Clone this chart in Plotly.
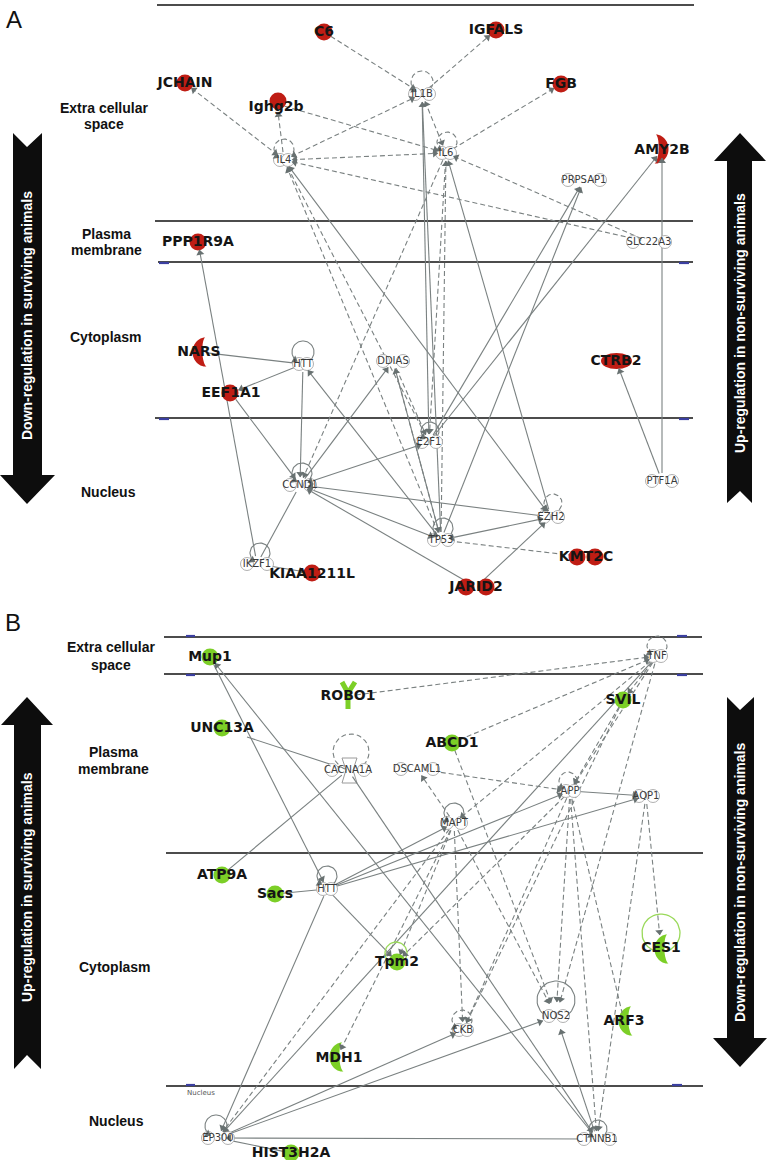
import math
import plotly.graph_objects as go

# ======================= DATA =======================
panel_letters = ["A", "B"]
compartments = [["Extra cellular", "space"], ["Plasma", "membrane"], ["Cytoplasm"], ["Nucleus"]]
arrow_texts_A = ["Down-regulation in surviving animals", "Up-regulation in non-surviving animals"]
arrow_texts_B = ["Up-regulation in surviving animals", "Down-regulation in non-surviving animals"]

# Panel A molecules
regulated_A = ["C6", "IGFALS", "JCHAIN", "Ighg2b", "FGB", "AMY2B", "PPP1R9A", "NARS",
               "EEF1A1", "CTRB2", "KIAA1211L", "KMT2C", "JARID2"]
connectors_A = ["IL1B", "IL6", "IL4", "PRPSAP1", "SLC22A3", "HTT", "DDIAS", "E2F1",
                "CCND1", "PTF1A", "EZH2", "TP53", "IKZF1"]
loops_A = [("IL1B", "dash"), ("IL6", "dash"), ("IL4", "dash"), ("HTT", "solid"), ("E2F1", "solid"),
           ("CCND1", "solid"), ("EZH2", "dash"), ("TP53", "solid"), ("IKZF1", "solid")]
# (source, target, line kind, arrowheads)
edges_A = [
    ("C6", "IL1B", "dash", ">"), ("IL1B", "IGFALS", "dash", ">"), ("IL4", "JCHAIN", "dash", "<>"),
    ("IL4", "Ighg2b", "dash", ">"), ("IL4", "IL1B", "dash", "<>"), ("Ighg2b", "IL6", "dash", ">"),
    ("IL4", "IL6", "dash", "<>"), ("IL1B", "IL6", "dash", "<>"), ("IL6", "FGB", "dash", ">"),
    ("SLC22A3", "IL6", "dash", ">"), ("SLC22A3", "IL4", "dash", ">"),
    ("IKZF1", "PPP1R9A", "solid", ">"), ("HTT", "NARS", "solid", ""), ("HTT", "EEF1A1", "solid", ">"),
    ("HTT", "CCND1", "solid", ">"), ("EEF1A1", "CCND1", "solid", ">"), ("CCND1", "IKZF1", "solid", ""),
    ("IKZF1", "KIAA1211L", "solid", ">"), ("CCND1", "DDIAS", "solid", ">"), ("TP53", "DDIAS", "solid", ">"),
    ("DDIAS", "E2F1", "dash", ">"), ("DDIAS", "TP53", "dash", ">"), ("TP53", "HTT", "solid", ">"),
    ("CCND1", "E2F1", "solid", "<>"), ("CCND1", "TP53", "solid", "<>"), ("JARID2", "CCND1", "solid", ">"),
    ("EZH2", "CCND1", "solid", ">"), ("EZH2", "TP53", "solid", "<>"), ("TP53", "KMT2C", "dash", ""),
    ("JARID2", "EZH2", "solid", ">"), ("PTF1A", "CTRB2", "solid", ">"), ("PTF1A", "AMY2B", "solid", ">"),
    ("E2F1", "PRPSAP1", "solid", ">"), ("TP53", "PRPSAP1", "solid", ">"), ("E2F1", "AMY2B", "solid", ">"),
    ("IL6", "CCND1", "dash", ">"), ("TP53", "IL4", "dash", ">"), ("E2F1", "IL4", "dash", ">"),
    ("EZH2", "IL4", "solid", "<>"), ("EZH2", "IL6", "solid", ">"), ("TP53", "IL6", "dash", ">"),
    ("IL6", "E2F1", "dash", ">"), ("TP53", "IL1B", "solid", ">"), ("IL1B", "E2F1", "solid", ">"),
]

# Panel B molecules
regulated_B = ["Mup1", "ROBO1", "SVIL", "UNC13A", "ABCD1", "ATP9A", "Sacs", "Tpm2", "CES1",
               "ARF3", "MDH1", "HIST3H2A"]
connectors_B = ["TNF", "CACNA1A", "DSCAML1", "APP", "AQP1", "MAPT", "HTT", "CKB", "NOS2",
                "EP300", "CTNNB1"]
loops_B = [("TNF", "dash"), ("APP", "dash"), ("MAPT", "solid"), ("HTT", "solid"), ("CKB", "dash"),
           ("EP300", "solid"), ("CTNNB1", "solid")]
edges_B = [
    ("ROBO1", "TNF", "dash", ">"), ("ABCD1", "TNF", "dash", ">"), ("TNF", "SVIL", "dash", ">"),
    ("TNF", "MAPT", "dash", ">"), ("TNF", "APP", "dash", ">"), ("TNF", "EP300", "solid", ">"),
    ("TNF", "NOS2", "dash", ">"), ("SVIL", "APP", "dash", ">"), ("SVIL", "CKB", "dash", ">"),
    ("MAPT", "DSCAML1", "dash", ">"), ("DSCAML1", "APP", "dash", ">"), ("APP", "AQP1", "solid", ">"),
    ("HTT", "MAPT", "solid", ">"), ("HTT", "APP", "solid", ">"), ("HTT", "AQP1", "solid", ">"),
    ("HTT", "EP300", "solid", ">"), ("MAPT", "EP300", "dash", ">"), ("EP300", "CKB", "solid", ">"),
    ("EP300", "NOS2", "solid", ">"), ("CTNNB1", "EP300", "solid", ">"), ("EP300", "HIST3H2A", "solid", ""),
    ("CACNA1A", "ATP9A", "solid", ""), ("CACNA1A", "CTNNB1", "solid", ">"), ("UNC13A", "CACNA1A", "solid", ""),
    ("CTNNB1", "Mup1", "solid", ">"), ("Mup1", "HTT", "solid", ">"), ("Sacs", "HTT", "solid", ""),
    ("HTT", "Tpm2", "solid", ">"), ("APP", "Tpm2", "dash", ">"), ("MAPT", "Tpm2", "dash", ">"),
    ("MAPT", "MDH1", "dash", ">"), ("AQP1", "CES1", "dash", ">"), ("AQP1", "CTNNB1", "dash", ">"),
    ("MAPT", "CKB", "dash", ">"), ("APP", "CKB", "dash", ">"), ("ABCD1", "NOS2", "dash", ">"),
    ("APP", "NOS2", "dash", ">"), ("APP", "CTNNB1", "dash", ">"), ("APP", "ARF3", "dash", ""),
    ("CTNNB1", "NOS2", "solid", ">"), ("MAPT", "NOS2", "dash", ">"),
]

# ======================= LAYOUT (positions / styles) =======================
W, H = 768, 1160
POS_A = {
    "C6": (324, 32), "IGFALS": (496, 30), "JCHAIN": (185, 83), "Ighg2b": (277, 104), "FGB": (561, 84),
    "IL1B": (422, 94), "IL6": (446, 153), "IL4": (284, 160), "AMY2B": (662, 150), "PRPSAP1": (584, 180),
    "SLC22A3": (649, 242), "PPP1R9A": (198, 242), "NARS": (199, 352), "HTT": (303, 364), "DDIAS": (393, 361),
    "EEF1A1": (231, 393), "CTRB2": (616, 361), "E2F1": (429, 442), "CCND1": (300, 485), "PTF1A": (662, 481),
    "EZH2": (551, 517), "TP53": (441, 540), "IKZF1": (257, 564), "KIAA1211L": (312, 573),
    "KMT2C": (586, 557), "JARID2": (476, 587),
}
POS_B = {
    "Mup1": (210, 657), "TNF": (657, 656), "ROBO1": (348, 696), "SVIL": (623, 700), "UNC13A": (222, 728),
    "ABCD1": (452, 743), "CACNA1A": (348, 770), "DSCAML1": (417, 769), "APP": (570, 791), "AQP1": (646, 796),
    "MAPT": (454, 823), "ATP9A": (222, 875), "Sacs": (275, 894), "HTT": (327, 889), "Tpm2": (397, 962),
    "CES1": (661, 948), "CKB": (463, 1030), "NOS2": (556, 1016), "ARF3": (624, 1021), "MDH1": (337, 1057),
    "EP300": (218, 1138), "HIST3H2A": (291, 1153), "CTNNB1": (597, 1139),
}
LABEL_SHIFT = {"Ighg2b": (-1, 3), "KIAA1211L": (0, 1), "MDH1": (2, 1)}
SYMBOL_A = {"AMY2B": ("enzyme", 1), "NARS": ("enzyme", -1), "CTRB2": ("oval", 0),
            "KMT2C": ("twin", 9), "JARID2": ("twin", 10)}
SYMBOL_B = {"ROBO1": ("Y", 0), "CES1": ("enzyme", -1), "ARF3": ("enzyme", -1), "MDH1": ("enzyme", -1)}
SYM_OFFSET = {"Ighg2b": (1, -3), "KIAA1211L": (0, 0), "EEF1A1": (-1, 0), "AMY2B": (0, -1),
              "MDH1": (-1, 0), "ARF3": (1, 0), "CES1": (0, 1), "NARS": (0, 0)}
ANCHOR_B = {"UNC13A": (247, 737)}
RADIUS = {"NOS2": 14, "CES1": 13}
LOOP_GEOM = {  # offset x, offset y, radius
    "A:IL1B": (0, -12, 11), "A:IL6": (1, -11, 10), "A:IL4": (0, -11, 10), "A:HTT": (0, -12, 11),
    "A:E2F1": (1, -11, 9), "A:CCND1": (2, -12, 10), "A:EZH2": (2, -14, 9), "A:TP53": (2, -12, 10),
    "A:IKZF1": (3, -11, 10), "B:TNF": (0, -10, 10), "B:APP": (-2, -10, 9), "B:MAPT": (0, -10, 10),
    "B:HTT": (0, -13, 10), "B:CKB": (-1, -10, 10), "B:EP300": (-2, -12, 11), "B:CTNNB1": (1, -10, 9),
}
RED = "#bf1d14"
GREEN = "#7ccf27"
EDGE = "#7a8181"
HEAD = "#687171"

fig = go.Figure()
shapes, annotations = [], []
seg = {"solid": ([], []), "dash": ([], [])}
heads = ([], [], [])


def add_head(tx, ty, ux, uy):
    heads[0].append(tx - ux * 3.2)
    heads[1].append(ty - uy * 3.2)
    heads[2].append(math.degrees(math.atan2(ux, -uy)))


def draw_edges(edges, pos, anchor):
    for s, d, kind, hd in edges:
        p = anchor.get(s, pos[s])
        q = anchor.get(d, pos[d])
        r1 = 0 if s in anchor else RADIUS.get(s, 8)
        r2 = 0 if d in anchor else RADIUS.get(d, 8)
        dx, dy = q[0] - p[0], q[1] - p[1]
        L = math.hypot(dx, dy)
        ux, uy = dx / L, dy / L
        sx, sy = p[0] + ux * r1, p[1] + uy * r1
        ex, ey = q[0] - ux * r2, q[1] - uy * r2
        xs, ys = seg[kind]
        xs += [sx, ex, None]
        ys += [sy, ey, None]
        if ">" in hd:
            add_head(ex, ey, ux, uy)
        if "<" in hd:
            add_head(sx, sy, -ux, -uy)


def arc(cx, cy, r, t0, t1, n=48):
    ts = [t0 + (t1 - t0) * i / (n - 1) for i in range(n)]
    return ([cx + r * math.cos(math.radians(t)) for t in ts],
            [cy + r * math.sin(math.radians(t)) for t in ts])


def draw_loop(cx, cy, r, kind, t0=120, t1=420, head=True, target=None):
    ax, ay = arc(cx, cy, r, t0, t1)
    xs, ys = target if target else seg[kind]
    xs += ax + [None]
    ys += ay + [None]
    if head:
        t = math.radians(t0)
        add_head(ax[0], ay[0], math.sin(t), -math.cos(t))


def crescent(cx, cy, b, h=29, w=13, color=RED):
    """Half-moon enzyme-like symbol; b = -1 bulges left, +1 bulges right."""
    fx = cx - b * w / 2
    n = 24
    pts = []
    for k in range(n + 1):
        s = math.pi * k / n
        pts.append((fx + b * w * math.sin(s), cy - h / 2 * math.cos(s)))
    for k in range(n, -1, -1):
        s = math.pi * k / n
        pts.append((fx + b * w * 0.3 * math.sin(s) - b * 1.5 * (k / n), cy - h / 2 * math.cos(s)))
    path = "M" + " L".join(f"{x:.1f},{y:.1f}" for x, y in pts) + " Z"
    shapes.append(dict(type="path", path=path, xref="x", yref="y", fillcolor=color,
                       line=dict(width=0), layer="below"))


reg_x, reg_y, reg_s, reg_c = [], [], [], []
plain_x, plain_y = [], []
lab = {"reg": ([], [], []), "plain": ([], [], [])}


def draw_nodes(tag, regulated, connectors, pos, symbols, color):
    for n in regulated:
        x, y = pos[n]
        ox, oy = SYM_OFFSET.get(n, (0, 0))
        kind, par = symbols.get(n, ("circle", 0))
        if kind == "circle":
            reg_x.append(x + ox); reg_y.append(y + oy); reg_s.append(17); reg_c.append(color)
        elif kind == "twin":
            for dx in (-par, par):
                reg_x.append(x + dx); reg_y.append(y); reg_s.append(17); reg_c.append(color)
        elif kind == "enzyme":
            crescent(x + ox, y + oy, par, color=color)
        elif kind == "oval":
            shapes.append(dict(type="circle", xref="x", yref="y", x0=x - 15, x1=x + 16, y0=y - 8, y1=y + 8,
                               fillcolor=color, line=dict(width=0), layer="below"))
        elif kind == "Y":
            shapes.append(dict(type="path", xref="x", yref="y", layer="below",
                               path=f"M{x-6},{y-14} L{x},{y-3} L{x+7},{y-14} M{x},{y-3} L{x},{y+13}",
                               line=dict(color=color, width=5)))
        lx, ly = LABEL_SHIFT.get(n, (0, 0))
        lab["reg"][0].append(x + lx); lab["reg"][1].append(y + ly); lab["reg"][2].append(f"<b>{n}</b>")
    for n in connectors:
        x, y = pos[n]
        w = len(n) * 6.0
        if w > 16:
            for dx in (-(w / 2 - 5), (w / 2 - 5)):
                plain_x.append(x + dx); plain_y.append(y)
        else:
            plain_x.append(x); plain_y.append(y)
        lab["plain"][0].append(x); lab["plain"][1].append(y); lab["plain"][2].append(n)


# ---------- compartment lines ----------
def hline(y, x0, x1, width=1.6):
    shapes.append(dict(type="line", xref="x", yref="y", x0=x0, x1=x1, y0=y, y1=y,
                       line=dict(color="#111111", width=width), layer="below"))


def tick(y, x0, x1):
    shapes.append(dict(type="line", xref="x", yref="y", x0=x0, x1=x1, y0=y, y1=y,
                       line=dict(color="#3b3fa0", width=2.2), layer="below"))


for y, x0, x1 in [(5, 157, 694), (221, 155, 693), (262, 158, 693), (418, 155, 693),
                  (637, 164, 702), (674, 164, 703), (853, 166, 703), (1086, 166, 703)]:
    hline(y, x0, x1)
for y, x0, x1 in [(263, 159, 169), (263, 679, 689), (419, 159, 169), (419, 679, 689),
                  (636, 186, 195), (636, 677, 687), (675, 186, 195), (675, 677, 687),
                  (1085, 186, 195), (1085, 672, 682)]:
    tick(y, x0, x1)

# ---------- big black arrows ----------
for path in ["M13,133 L27,147 L42,133 L42,475 L55,475 L27,504 L0,475 L13,475 Z",
             "M740,133 L766,161 L752,161 L752,503 L740,491 L727,503 L727,161 L714,161 Z",
             "M27,697 L53,725 L41,725 L41,1069 L27,1055 L14,1069 L14,725 L1,725 Z",
             "M727,697 L740,710 L754,697 L754,1038 L767,1038 L740,1067 L713,1038 L727,1038 Z"]:
    shapes.append(dict(type="path", path=path, xref="x", yref="y", fillcolor="#0d0d0d",
                       line=dict(width=0), layer="below"))
for txt, x, y in [(arrow_texts_A[0], 27, 316), (arrow_texts_A[1], 740, 323),
                  (arrow_texts_B[0], 27, 887), (arrow_texts_B[1], 740, 883)]:
    annotations.append(dict(x=x, y=y, xref="x", yref="y", text=f"<b>{txt}</b>", showarrow=False,
                            textangle=-90, font=dict(family="Liberation Sans, Arial", size=14, color="white")))

# ---------- compartment labels ----------
comp_pos_A = [[(104, 108), (104, 124)], [(106, 234), (106, 250)], [(106, 337)], [(108, 492)]]
comp_pos_B = [[(111, 647), (111, 665)], [(113, 752), (113, 769)], [(115, 967)], [(116, 1121)]]
for comp_pos in (comp_pos_A, comp_pos_B):
    for lines, ps in zip(compartments, comp_pos):
        for t, (x, y) in zip(lines, ps):
            annotations.append(dict(x=x, y=y, xref="x", yref="y", text=f"<b>{t}</b>", showarrow=False,
                                    font=dict(family="Liberation Sans, Arial", size=14, color="#111111")))
for t, (x, y) in zip(panel_letters, [(14, 19), (13, 622)]):
    annotations.append(dict(x=x, y=y, xref="x", yref="y", text=t, showarrow=False,
                            font=dict(family="Liberation Sans, Arial", size=24, color="#111111")))
annotations.append(dict(x=201, y=1093, xref="x", yref="y", text="Nucleus", showarrow=False,
                        font=dict(family="DejaVu Sans", size=7, color="#555555")))

# ---------- network ----------
draw_edges(edges_A, POS_A, {})
draw_edges(edges_B, POS_B, ANCHOR_B)
for n, kind in loops_A:
    x, y = POS_A[n]
    ox, oy, r = LOOP_GEOM["A:" + n]
    draw_loop(x + ox, y + oy, r, kind)
for n, kind in loops_B:
    x, y = POS_B[n]
    ox, oy, r = LOOP_GEOM["B:" + n]
    draw_loop(x + ox, y + oy, r, kind)
# large loops (CACNA1A, NOS2) and green rings (Tpm2, CES1)
draw_loop(351, 752, 18, "dash", t0=110, t1=430, head=False)
draw_loop(556, 1000, 19, "solid", t0=120, t1=420, head=False)
green_ring = ([], [])
draw_loop(661, 933, 19, "solid", t0=115, t1=425, head=False, target=green_ring)
draw_loop(396, 953, 11, "solid", t0=100, t1=440, head=False, target=green_ring)

draw_nodes("A", regulated_A, connectors_A, POS_A, SYMBOL_A, RED)
draw_nodes("B", regulated_B, connectors_B, POS_B, SYMBOL_B, GREEN)

# CACNA1A channel symbol
shapes.append(dict(type="path", xref="x", yref="y", layer="below",
                   path="M342,758 L357,758 L353,770 L357,783 L342,783 L346,770 Z",
                   fillcolor="white", line=dict(color="#9a9a9a", width=1)))

fig.add_trace(go.Scatter(x=seg["solid"][0], y=seg["solid"][1], mode="lines",
                         line=dict(color=EDGE, width=1.1), hoverinfo="skip"))
fig.add_trace(go.Scatter(x=seg["dash"][0], y=seg["dash"][1], mode="lines",
                         line=dict(color=EDGE, width=1.1, dash="5px,3px"), hoverinfo="skip"))
fig.add_trace(go.Scatter(x=green_ring[0], y=green_ring[1], mode="lines",
                         line=dict(color="#9ad95a", width=1.3), hoverinfo="skip"))
fig.add_trace(go.Scatter(x=plain_x, y=plain_y, mode="markers", hoverinfo="skip",
                         marker=dict(symbol="circle", size=13, color="white", opacity=1,
                                     line=dict(color="#a8a8a8", width=0.9))))
fig.add_trace(go.Scatter(x=reg_x, y=reg_y, mode="markers", hoverinfo="skip",
                         marker=dict(symbol="circle", size=reg_s, color=reg_c, opacity=1,
                                     line=dict(width=0))))
fig.add_trace(go.Scatter(x=heads[0], y=heads[1], mode="markers", hoverinfo="skip",
                         marker=dict(symbol="triangle-up", size=7, angle=heads[2], color=HEAD, opacity=1,
                                     line=dict(width=0))))
fig.add_trace(go.Scatter(x=lab["plain"][0], y=lab["plain"][1], text=lab["plain"][2], mode="text",
                         textposition="middle center", hoverinfo="skip",
                         textfont=dict(family="DejaVu Sans", size=10, color="#3a3a3a")))
fig.add_trace(go.Scatter(x=lab["reg"][0], y=lab["reg"][1], text=lab["reg"][2], mode="text",
                         textposition="middle center", hoverinfo="skip",
                         textfont=dict(family="DejaVu Sans", size=14, color="#151515")))

fig.update_layout(
    width=W, height=H, margin=dict(l=0, r=0, t=0, b=0),
    paper_bgcolor="white", plot_bgcolor="white", showlegend=False, hovermode=False,
    xaxis=dict(range=[0, W], visible=False, fixedrange=True),
    yaxis=dict(range=[H, 0], visible=False, fixedrange=True),
    shapes=shapes, annotations=annotations,
)
fig.write_html("out.html", config={"displayModeBar": False},
               post_script="document.body.style.margin='0px';")
